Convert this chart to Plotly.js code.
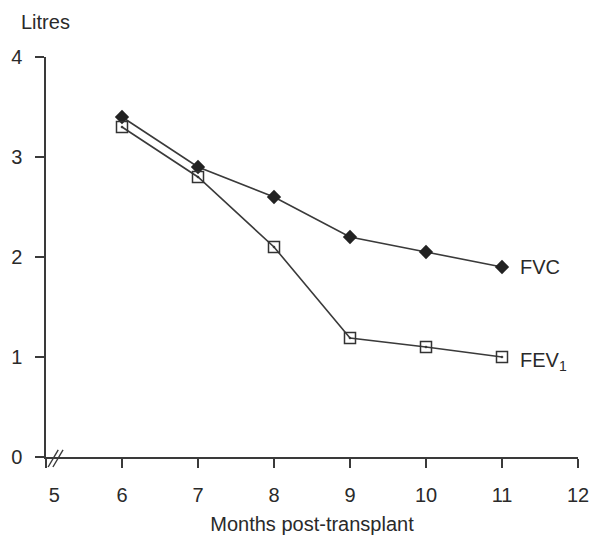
<!DOCTYPE html>
<html><head><meta charset="utf-8">
<script src="https://cdn.plot.ly/plotly-3.0.1.min.js"></script>
<style>body{margin:0;background:#fff}#c{width:600px;height:545px}</style>
</head><body><div id="c"></div>
<script>
const months = [6, 7, 8, 9, 10, 11];
const fvc = [3.4, 2.9, 2.6, 2.2, 2.05, 1.9];
const fev1 = [3.3, 2.8, 2.1, 1.19, 1.1, 1.0];
const xTicks = [5, 6, 7, 8, 9, 10, 11, 12];
const xTickText = ['\u00a0\u00a0\u00a05', '6', '7', '8', '9', '10', '11', '12'];
const yTicks = [0, 1, 2, 3, 4];

const ink = '#3a3a3a';
const font = {family: 'Liberation Sans, Arial, sans-serif', size: 20, color: '#2a2a2a'};

const traces = [
  {x: months, y: fvc, mode: 'lines+markers', name: 'FVC',
   line: {color: ink, width: 1.6},
   marker: {symbol: 'diamond', size: 11, color: '#222'}},
  {x: months, y: fev1, mode: 'lines+markers', name: 'FEV1',
   line: {color: ink, width: 1.6},
   marker: {symbol: 'square-open-dot', size: 11, color: '#333', line: {width: 1.5, color: '#333'}}}
];

const layout = {
  width: 600, height: 545,
  margin: {l: 46, r: 22, t: 57, b: 88},
  paper_bgcolor: '#fff', plot_bgcolor: '#fff',
  showlegend: false,
  font: font,
  xaxis: {range: [5, 12], tickvals: xTicks, ticktext: xTickText,
    showgrid: false, zeroline: false, showline: true, linecolor: ink, linewidth: 1.6,
    ticks: 'outside', ticklen: 9, tickwidth: 1.4, tickcolor: ink, ticklabelstandoff: 10,
    title: {text: 'Months post-transplant', font: {family: font.family, size: 20, color: font.color}, standoff: 12}},
  yaxis: {range: [0, 4], tickvals: yTicks, ticktext: yTicks.map(String),
    showgrid: false, zeroline: false, showline: true, linecolor: ink, linewidth: 1.6,
    ticks: 'outside', ticklen: 9, tickwidth: 1.4, tickcolor: ink, ticklabelstandoff: 9},
  annotations: [
    {text: 'Litres', xref: 'paper', yref: 'paper', x: -0.05, y: 1.055, xanchor: 'left', yanchor: 'bottom', showarrow: false, font: font},
    {text: 'FVC', xref: 'x', yref: 'y', x: months[5], y: fvc[5], xshift: 16, xanchor: 'left', yanchor: 'middle', showarrow: false, font: font},
    {text: 'FEV<sub>1</sub>', xref: 'x', yref: 'y', x: months[5], y: fev1[5], xshift: 16, yshift: -4, xanchor: 'left', yanchor: 'middle', showarrow: false, font: font}
  ],
  shapes: [
    {type: 'line', xref: 'paper', yref: 'paper', x0: 0.004, y0: -0.025, x1: 0.023, y1: 0.018, line: {color: ink, width: 1.4}},
    {type: 'line', xref: 'paper', yref: 'paper', x0: 0.013, y0: -0.025, x1: 0.032, y1: 0.018, line: {color: ink, width: 1.4}}
  ]
};
Plotly.newPlot('c', traces, layout, {displayModeBar: false, staticPlot: true});
</script></body></html>
